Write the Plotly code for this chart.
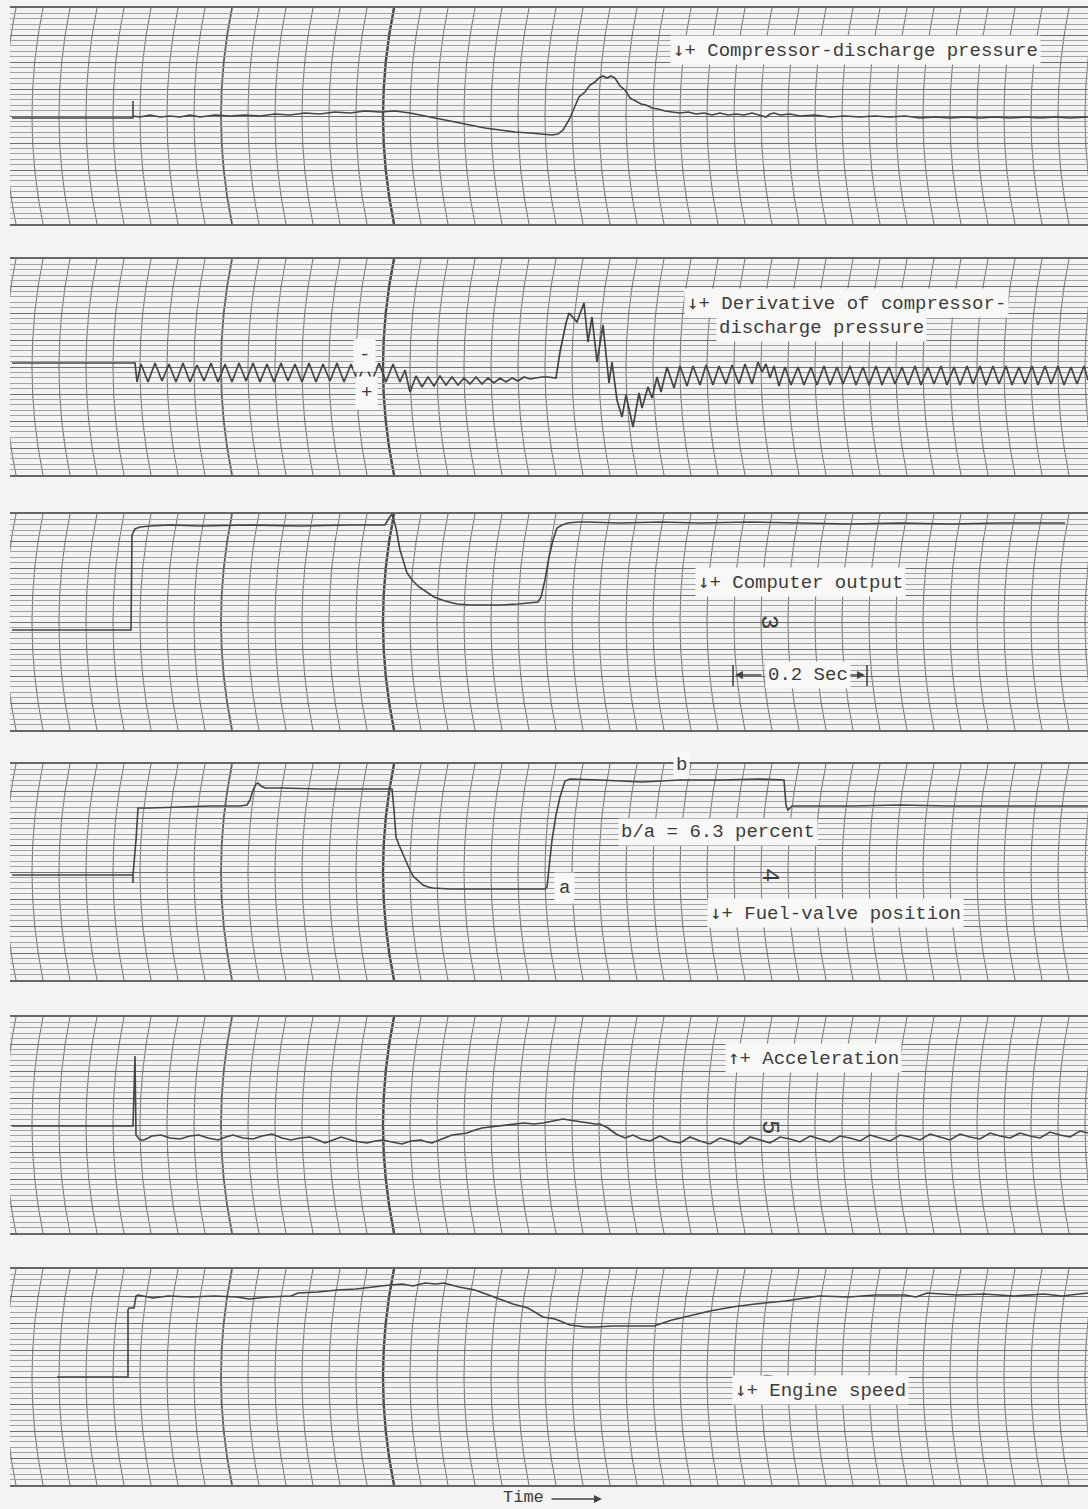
import plotly.graph_objects as go

W, H = 1088, 1509

# ---------------- data (time in chart px units, deflection in chart px units) ----------------
# 1: Compressor-discharge pressure
cdp_t = [12, 133, 133, 133, 140, 150, 160, 170, 180, 190, 200, 215, 230, 245, 260, 275, 290, 305, 320, 335,
         350, 365, 380, 395, 410, 425, 440, 455, 470, 485, 500, 515, 530, 543, 552, 558, 563, 569, 574, 579,
         585, 590, 595, 599, 603, 607, 611, 615, 620, 625, 630, 636, 641, 646, 652, 658, 665, 672, 680, 688,
         696, 704, 712, 720, 728, 736, 744, 752, 760, 766, 770, 774, 780, 790, 800, 815, 830, 845, 860, 875,
         890, 905, 920, 935, 950, 965, 980, 995, 1010, 1025, 1040, 1055, 1070, 1088]
cdp_v = [118, 118, 101, 116, 117, 115, 117, 116, 117, 115, 117, 115, 116, 115, 116, 114, 115, 113, 114, 112,
         113, 111, 112, 111, 113, 116, 119, 122, 125, 128, 130, 132, 133, 134, 135, 134, 130, 120, 108, 97,
         92, 85, 82, 78, 76, 78, 76, 78, 86, 90, 98, 101, 104, 105, 108, 109, 111, 112, 113, 112,
         114, 113, 115, 113, 115, 114, 115, 113, 115, 117, 114, 113, 115, 114, 116, 115, 117, 116, 117, 116,
         117, 116, 118, 117, 118, 117, 118, 117, 118, 117, 118, 117, 118, 117]

# 2: Derivative of compressor-discharge pressure (segments)
der_base_t = [12, 135]
der_base_v = [363, 363]
der_a_t = [137, 141, 148, 155, 162, 169, 176, 183, 190, 197, 204, 211, 218, 225, 232, 239, 246, 253, 260,
           267, 274, 281, 288, 295, 302, 309, 316, 323, 330, 337, 344, 351, 358, 365, 372, 379, 386, 393, 400, 405]
der_a_v = [382, 364, 382, 363, 381, 364, 382, 363, 382, 365, 381, 363, 382, 364, 382, 363, 381, 363, 382,
           364, 382, 363, 381, 364, 382, 363, 382, 364, 381, 363, 382, 364, 382, 363, 381, 363, 382, 364, 382, 370]
der_b_t = [410, 416, 422, 428, 434, 440, 446, 452, 458, 464, 470, 476, 482, 488, 494, 500, 506, 512, 518, 524,
           530, 536, 542, 548, 556]
der_b_v = [392, 376, 387, 377, 386, 376, 385, 377, 385, 378, 384, 377, 384, 378, 383, 378, 382, 378, 381, 377,
           379, 378, 377, 377, 378]
der_c_t = [560, 566, 569, 573, 577, 584, 588, 592, 597, 603, 609, 612, 617, 622, 626, 633, 639, 642, 648, 652, 657, 661]
der_c_v = [352, 323, 313, 317, 322, 303, 342, 317, 362, 325, 383, 362, 400, 417, 395, 427, 393, 408, 387, 398, 377, 392]
der_d_t = [667, 674, 680, 687, 693, 700, 706, 713, 719, 726, 732, 739, 745, 752, 758, 762, 766, 770, 774, 779,
           785, 791, 798, 804, 811, 817, 824, 830, 837, 843, 850, 856, 863, 869, 876, 882, 889, 895, 902, 908,
           915, 921, 928, 934, 941, 947, 954, 960, 967, 973, 980, 986, 993, 999, 1006, 1012, 1019, 1025, 1032, 1038,
           1045, 1051, 1058, 1064, 1071, 1077, 1084, 1088]
der_d_v = [367, 388, 366, 386, 366, 385, 365, 385, 366, 384, 365, 384, 364, 384, 362, 372, 364, 378, 366, 386,
           367, 385, 367, 385, 367, 385, 366, 385, 367, 384, 366, 385, 367, 385, 366, 385, 367, 384, 367, 385,
           366, 385, 367, 384, 366, 385, 367, 385, 366, 384, 366, 385, 366, 384, 366, 385, 367, 384, 366, 385,
           366, 384, 366, 385, 367, 384, 366, 380]

# 3: Computer output
cmp_t = [12, 131, 132, 135, 140, 150, 170, 200, 250, 300, 350, 385, 389, 392, 396, 400, 407, 413, 419, 426,
         434, 445, 457, 470, 484, 500, 518, 532, 538, 541, 545, 549, 553, 557, 562, 568, 578, 587, 620, 660,
         700, 750, 800, 850, 900, 950, 1000, 1065]
cmp_v = [630, 630, 535, 529, 527, 526, 525, 526, 525, 526, 525, 525, 518, 514, 528, 550, 573, 581, 587, 592,
         597, 601, 604, 605, 605, 605, 604, 603, 602, 597, 580, 557, 540, 528, 525, 523, 522, 522, 523, 522,
         523, 522, 523, 524, 523, 524, 523, 523]

# 4: Fuel-valve position
fvp_t = [12, 133, 133, 133, 133, 136, 138, 150, 180, 210, 240, 247, 250, 253, 256, 258, 261, 265, 280, 320,
         360, 392, 394, 396, 399, 402, 405, 409, 413, 418, 423, 428, 433, 450, 480, 510, 545, 547, 549, 552,
         556, 560, 565, 570, 600, 642, 680, 720, 760, 784, 786, 788, 792, 800, 850, 900, 950, 1000, 1050, 1088]
fvp_v = [875, 875, 883, 872, 875, 840, 808, 808, 807, 806, 806, 805, 800, 790, 784, 783, 786, 788, 788, 789,
         789, 789, 810, 837, 845, 852, 860, 868, 876, 881, 885, 887, 888, 889, 889, 889, 889, 887, 870, 840,
         815, 797, 781, 779, 780, 782, 780, 780, 779, 780, 805, 810, 806, 806, 806, 805, 806, 806, 806, 806]

# 5: Acceleration
acc_t = [12, 133, 135, 136, 140, 144, 152, 161, 170, 180, 190, 199, 208, 218, 226, 233, 243, 253, 262, 272,
         282, 291, 300, 310, 318, 325, 333, 341, 354, 367, 375, 383, 392, 402, 411, 421, 427, 432, 442, 452,
         460, 467, 475, 482, 490, 498, 506, 513, 519, 524, 534, 543, 553, 563, 569, 574, 582, 589, 595, 600,
         608, 616, 625, 633, 641, 650, 660, 670, 680, 690, 700, 710, 720, 730, 740, 750, 760, 770, 780, 790,
         800, 810, 820, 830, 840, 850, 860, 870, 880, 890, 900, 910, 920, 930, 940, 950, 960, 970, 980, 990,
         1000, 1010, 1020, 1030, 1040, 1050, 1060, 1070, 1080, 1088]
acc_v = [1126, 1126, 1056, 1135, 1140, 1140, 1136, 1135, 1138, 1139, 1136, 1135, 1138, 1140, 1137, 1135, 1138, 1139, 1136, 1134,
         1138, 1140, 1138, 1137, 1140, 1143, 1140, 1137, 1141, 1143, 1141, 1140, 1142, 1144, 1141, 1140, 1142, 1143, 1139, 1135,
         1134, 1133, 1130, 1128, 1127, 1126, 1125, 1124, 1123, 1123, 1124, 1123, 1121, 1119, 1120, 1121, 1122, 1123, 1124, 1124,
         1128, 1134, 1138, 1135, 1139, 1141, 1136, 1141, 1143, 1137, 1141, 1144, 1138, 1141, 1144, 1137, 1140, 1143, 1137, 1139,
         1142, 1136, 1139, 1142, 1136, 1138, 1141, 1135, 1138, 1141, 1135, 1137, 1140, 1134, 1137, 1140, 1134, 1137, 1139, 1133,
         1136, 1138, 1133, 1136, 1138, 1132, 1135, 1137, 1131, 1133]

# 6: Engine speed
spd_t = [57, 128, 128, 129, 134, 136, 138, 153, 168, 191, 214, 237, 249, 268, 291, 298, 318, 337, 356, 371,
         390, 402, 413, 425, 436, 444, 459, 475, 486, 498, 513, 528, 543, 555, 570, 586, 597, 612, 631, 654,
         672, 695, 710, 732, 755, 785, 819, 849, 875, 905, 916, 927, 957, 984, 1014, 1044, 1062, 1088]
spd_v = [1377, 1377, 1310, 1308, 1308, 1296, 1295, 1298, 1296, 1297, 1296, 1297, 1299, 1297, 1296, 1293, 1292, 1290, 1289, 1287,
         1285, 1284, 1286, 1283, 1284, 1283, 1287, 1290, 1294, 1298, 1304, 1308, 1317, 1319, 1325, 1327, 1327, 1326, 1326, 1326,
         1320, 1315, 1311, 1307, 1304, 1301, 1296, 1297, 1295, 1295, 1297, 1293, 1295, 1294, 1296, 1294, 1296, 1293]

# ---------------- layout constants ----------------
strip_top = [8, 259, 514, 764, 1017, 1269]
strip_bot = [224, 475, 730, 980, 1233, 1485]
X0 = 10
PAPER = "#f3f3f1"
BOX = "#f8f8f6"
INK = "#454545"
FONT = "Liberation Mono, Courier New, monospace"
DN = '<span style="font-family:DejaVu Sans Mono">\u2193</span>'
UP = '<span style="font-family:DejaVu Sans Mono">\u2191</span>'

fig = go.Figure()

def sfx(i):
    return "" if i == 0 else str(i + 1)

for i in range(6):
    s = sfx(i)
    T, B = strip_top[i], strip_bot[i]
    fig.update_layout(**{
        "xaxis" + s: dict(domain=[X0 / W, 1], range=[X0, W], anchor="y" + s, showgrid=False,
                          zeroline=False, showticklabels=False, ticks="", showline=True, mirror=True,
                          linecolor="#666666", linewidth=1.5, fixedrange=True),
        "yaxis" + s: dict(domain=[1 - B / H, 1 - T / H], range=[B, T], anchor="x" + s,
                          showgrid=True, gridcolor="#6f6f6f", gridwidth=1.4, tick0=T, dtick=27,
                          showticklabels=False, ticks="", zeroline=False, showline=False, fixedrange=True,
                          minor=dict(tick0=T, dtick=5.4, showgrid=True, gridcolor="#a2a2a2", gridwidth=1)),
    })

# curved timing lines of the recording paper
shapes = []
for i in range(6):
    s = sfx(i)
    T, B = strip_top[i], strip_bot[i]
    M = (T + B) / 2
    for k in range(41):
        xt = 16 + 27 * k
        w = 1.8 if k == 8 else 1.1
        c = "#606060" if k == 8 else "#7c7c7c"
        shapes.append(dict(type="path", path=f"M {xt},{T} Q {xt - 22},{M} {xt},{B}",
                           xref="x" + s, yref="y" + s, line=dict(color=c, width=w), layer="below"))
    shapes.append(dict(type="path", path=f"M 394,{T} Q 372,{M} 394,{B}",
                       xref="x" + s, yref="y" + s, line=dict(color="#4a4a4a", width=2.4), layer="below"))

# 0.2 sec bars (strip 3)
for xb in (733, 867):
    shapes.append(dict(type="line", x0=xb, x1=xb, y0=665, y1=686, xref="x3", yref="y3",
                       line=dict(color=INK, width=1.6)))
fig.update_layout(shapes=shapes)

def add(t, v, i, w=1.6):
    s = sfx(i)
    fig.add_trace(go.Scatter(x=t, y=v, mode="lines", xaxis="x" + s, yaxis="y" + s,
                             line=dict(color=INK, width=w), hoverinfo="skip", showlegend=False))

add(cdp_t, cdp_v, 0)
add(der_base_t + der_a_t + der_b_t + der_c_t + der_d_t,
    der_base_v + der_a_v + der_b_v + der_c_v + der_d_v, 1, 1.7)
add(cmp_t, cmp_v, 2)
add(fvp_t, fvp_v, 3)
add(acc_t, acc_v, 4)
add(spd_t, spd_v, 5)

ann = []
def label(text, x, y, i, size=19, anchor="center", bg=BOX, angle=0, pad=2):
    s = sfx(i)
    ann.append(dict(text=text, x=x, y=y, xref="x" + s, yref="y" + s, showarrow=False,
                    xanchor=anchor, yanchor="middle", font=dict(family=FONT, size=size, color="#3c3c3c"),
                    bgcolor=bg, borderpad=pad, textangle=angle))

label(DN + "+ Compressor-discharge pressure", 855, 50, 0)
label(DN + "+ Derivative of compressor-", 684, 303, 1, anchor="left")
label("discharge pressure", 716, 328, 1, anchor="left")
label("-", 364, 355, 1, pad=5)
label("+", 366, 393, 1, pad=5)
label(DN + "+ Computer output", 800, 582, 2)
label("3", 769, 622, 2, size=24, angle=90, bg="rgba(0,0,0,0)")
label("0.2 Sec", 808, 675, 2)
label("b", 681, 765, 3)
label("b/a = 6.3 percent", 718, 832, 3)
label("a", 564, 888, 3, pad=4)
label("4", 770, 875, 3, size=24, angle=90, bg="rgba(0,0,0,0)")
label(DN + "+ Fuel-valve position", 835, 913, 3)
label(UP + "+ Acceleration", 813, 1058, 4)
label("5", 770, 1127, 4, size=24, angle=90, bg="rgba(0,0,0,0)")
label("6", 767, 1380, 5, size=24, angle=90, bg="rgba(0,0,0,0)")
label(DN + "+ Engine speed", 820, 1390, 5)

# 0.2 sec arrows
ann.append(dict(x=735, y=675, xref="x3", yref="y3", ax=28, ay=0, text="", showarrow=True,
                arrowhead=2, arrowsize=1, arrowwidth=1.6, arrowcolor=INK))
ann.append(dict(x=865, y=675, xref="x3", yref="y3", ax=-16, ay=0, text="", showarrow=True,
                arrowhead=2, arrowsize=1, arrowwidth=1.6, arrowcolor=INK))
# Time label
ann.append(dict(text="Time", x=523 / W, y=1 - 1497.5 / H, xref="paper", yref="paper", showarrow=False,
                xanchor="center", yanchor="middle", borderpad=0,
                font=dict(family=FONT, size=17, color="#3c3c3c")))
ann.append(dict(x=602 / W, y=1 - 1499 / H, xref="paper", yref="paper", ax=-52, ay=0, text="",
                showarrow=True, arrowhead=2, arrowsize=1, arrowwidth=1.6, arrowcolor=INK))

fig.update_layout(annotations=ann, width=W, height=H, autosize=False,
                  margin=dict(l=0, r=0, t=0, b=0, pad=0),
                  paper_bgcolor=PAPER, plot_bgcolor=PAPER, hovermode=False, showlegend=False)

fig.write_html("out.html", config={"displayModeBar": False},
               post_script="document.body.style.margin='0';document.body.style.overflow='hidden';"
                           "document.body.style.background='" + PAPER + "';")
